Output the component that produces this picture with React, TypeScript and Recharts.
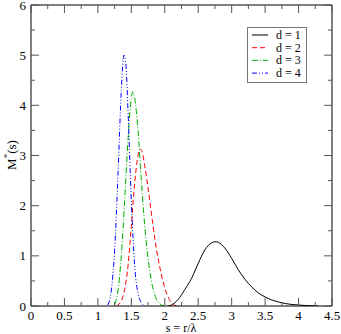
import React from "react";
import { LineChart, Line, XAxis, YAxis, ReferenceLine } from "recharts";

// s = r/lambda samples and M*(s) values
const d1S = [2.05, 2.1, 2.2, 2.3, 2.4, 2.5, 2.6, 2.7, 2.75, 2.8, 2.9, 3.0, 3.1, 3.2, 3.3, 3.4, 3.5, 3.6, 3.7, 3.8, 3.9, 4.0, 4.1, 4.2, 4.3];
const d1M = [0, 0.02, 0.13, 0.33, 0.55, 0.85, 1.12, 1.26, 1.28, 1.27, 1.15, 0.95, 0.72, 0.53, 0.38, 0.26, 0.18, 0.12, 0.08, 0.05, 0.03, 0.02, 0.01, 0.005, 0];

const d2S = [1.28, 1.3, 1.35, 1.4, 1.45, 1.5, 1.55, 1.6, 1.63, 1.66, 1.7, 1.75, 1.8, 1.85, 1.9, 1.95, 2.0, 2.05, 2.1, 2.15, 2.2];
const d2M = [0, 0.02, 0.1, 0.33, 0.8, 1.6, 2.45, 3.0, 3.13, 3.08, 2.8, 2.35, 1.85, 1.35, 0.95, 0.62, 0.36, 0.18, 0.06, 0.01, 0];

const d3S = [1.25, 1.3, 1.35, 1.4, 1.45, 1.5, 1.52, 1.55, 1.6, 1.65, 1.7, 1.75, 1.8, 1.85, 1.9, 1.95, 2.0];
const d3M = [0.03, 0.3, 1.0, 2.1, 3.3, 4.15, 4.27, 4.15, 3.5, 2.5, 1.6, 0.95, 0.5, 0.22, 0.08, 0.02, 0];

const d4S = [1.15, 1.2, 1.25, 1.3, 1.35, 1.39, 1.42, 1.45, 1.5, 1.55, 1.6, 1.65, 1.7];
const d4M = [0.02, 0.3, 1.1, 2.6, 4.3, 5.0, 4.8, 3.9, 2.1, 0.8, 0.25, 0.07, 0];

const xTicks = [0, 0.25, 0.5, 0.75, 1, 1.25, 1.5, 1.75, 2, 2.25, 2.5, 2.75, 3, 3.25, 3.5, 3.75, 4, 4.25, 4.5];
const yTicks = [0, 0.5, 1, 1.5, 2, 2.5, 3, 3.5, 4, 4.5, 5, 5.5, 6];

const legendNames = ["d = 1", "d = 2", "d = 3", "d = 4"];
const colors = ["#000000", "#ff0000", "#00b000", "#0000ff"];
const dashes = ["", "5 3", "6 2 1 2", "5 2 1 2 1 2"];

const toRows = (s: number[], m: number[]) => s.map((v, i) => ({ s: v, m: m[i] }));
const series = [toRows(d1S, d1M), toRows(d2S, d2M), toRows(d3S, d3M), toRows(d4S, d4M)];

const FONT = "'Liberation Serif', 'DejaVu Serif', serif";
const TICK = "#555";
// plot frame (chart margins)
const PLOT_TOP = 5;
const PLOT_RIGHT = 332;

const isMajorX = (v: number) => Math.abs(v * 2 - Math.round(v * 2)) < 1e-6;
const isMajorY = (v: number) => Math.abs(v - Math.round(v)) < 1e-6;

// bottom tick + label, plus the mirrored tick on the top frame
function XTick(props: any) {
  const { x, y, payload } = props;
  const major = isMajorX(payload.value);
  const len = major ? 8 : 4;
  return (
    <g>
      <line x1={x} x2={x} y1={y} y2={y - len} stroke={TICK} />
      <line x1={x} x2={x} y1={PLOT_TOP} y2={PLOT_TOP + len} stroke={TICK} />
      {major && (
        <text x={x} y={y + 14} textAnchor="middle" fontSize={13} fontFamily={FONT} fill="#000">
          {String(payload.value)}
        </text>
      )}
    </g>
  );
}

// left tick + label, plus the mirrored tick on the right frame
function YTick(props: any) {
  const { x, y, payload } = props;
  const major = isMajorY(payload.value);
  const len = major ? 8 : 4;
  return (
    <g>
      <line x1={x} x2={x + len} y1={y} y2={y} stroke={TICK} />
      <line x1={PLOT_RIGHT} x2={PLOT_RIGHT - len} y1={y} y2={y} stroke={TICK} />
      {major && (
        <text x={x - 5} y={y + 4.5} textAnchor="end" fontSize={13} fontFamily={FONT} fill="#000">
          {String(payload.value)}
        </text>
      )}
    </g>
  );
}

export default function App() {
  return (
    <div style={{ position: "absolute", left: 0, top: 0, width: 341, height: 334, background: "#fff" }}>
      <LineChart width={341} height={334} margin={{ top: PLOT_TOP, right: 341 - PLOT_RIGHT, bottom: 0, left: 0 }}>
        <XAxis
          type="number"
          dataKey="s"
          domain={[0, 4.5]}
          ticks={xTicks}
          interval={0}
          allowDataOverflow
          height={28}
          tickSize={0}
          tickMargin={0}
          tickLine={false}
          axisLine={{ stroke: "#000" }}
          tick={<XTick />}
        />
        <YAxis
          type="number"
          domain={[0, 6]}
          ticks={yTicks}
          interval={0}
          allowDataOverflow
          width={31}
          tickSize={0}
          tickMargin={0}
          tickLine={false}
          axisLine={{ stroke: "#000" }}
          tick={<YTick />}
        />
        <ReferenceLine y={6} stroke="#000" ifOverflow="visible" />
        <ReferenceLine x={4.5} stroke="#000" ifOverflow="visible" />
        {series.map((rows, i) => (
          <Line
            key={legendNames[i]}
            data={rows}
            dataKey="m"
            name={legendNames[i]}
            type="monotone"
            stroke={colors[i]}
            strokeWidth={1}
            strokeDasharray={dashes[i] || undefined}
            dot={false}
            activeDot={false}
            isAnimationActive={false}
          />
        ))}
      </LineChart>
      <svg width={341} height={334} style={{ position: "absolute", left: 0, top: 0, pointerEvents: "none" }}>
        <text x={181} y={332} textAnchor="middle" fontSize={12} fontFamily={FONT} fill="#000">
          s = r/λ
        </text>
        <text transform="translate(16,155) rotate(-90)" textAnchor="middle" fontSize={13} fontFamily={FONT} fill="#000">
          M<tspan fontSize={9} dy={-6}>*</tspan>
          <tspan dy={6}>(s)</tspan>
        </text>
        <rect x={247.5} y={27.5} width={59} height={55} fill="#fff" stroke="#777" />
        {legendNames.map((n, i) => (
          <g key={n}>
            <line x1={252} x2={268} y1={35 + i * 12.7} y2={35 + i * 12.7} stroke={colors[i]} strokeDasharray={dashes[i] || undefined} />
            <text x={276} y={39 + i * 12.7} fontSize={12} fontFamily={FONT} fill="#000">
              {n}
            </text>
          </g>
        ))}
      </svg>
    </div>
  );
}
